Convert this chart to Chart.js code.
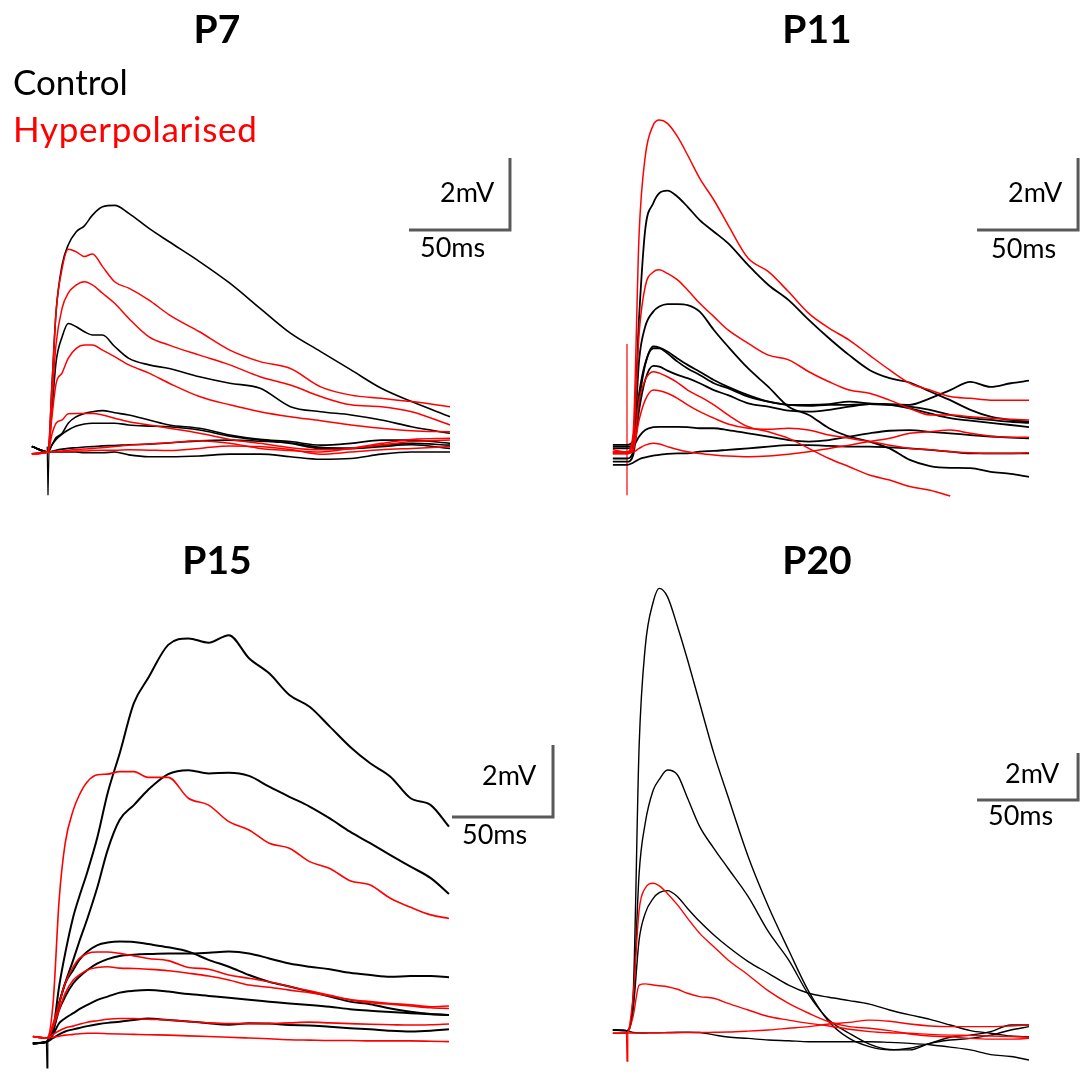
<!DOCTYPE html>
<html>
<head>
<meta charset="utf-8">
<script src="https://cdn.jsdelivr.net/npm/chart.js@4"></script>
<style>
html,body{margin:0;padding:0;background:#fff;}
#wrap{position:relative;width:1083px;height:1077px;overflow:hidden;font-family:Lato,"Open Sans","DejaVu Sans",sans-serif;}
canvas{position:absolute;left:0;top:0;}
.t{position:absolute;white-space:nowrap;line-height:1;color:#000;}
.title{font-weight:700;font-size:39px;width:200px;text-align:center;}
.leg{font-size:35px;}
.sb{font-size:27px;}
</style>
</head>
<body>
<div id="wrap">
<canvas id="c7" width="1083" height="1077"></canvas>
<canvas id="c11" width="1083" height="1077"></canvas>
<canvas id="c15" width="1083" height="1077"></canvas>
<canvas id="c20" width="1083" height="1077"></canvas>

<div class="t title" style="left:117px;top:9px">P7</div>
<div class="t title" style="left:717px;top:9px">P11</div>
<div class="t title" style="left:117px;top:540px">P15</div>
<div class="t title" style="left:717px;top:540px">P20</div>
<div class="t leg" style="left:13px;top:64px">Control</div>
<div class="t leg" style="left:13px;top:111px;color:#ff0000;letter-spacing:0.7px">Hyperpolarised</div>

<div class="t sb" style="left:440px;top:178px">2mV</div>
<div class="t sb" style="left:420px;top:233px">50ms</div>
<div class="t sb" style="left:1008px;top:178px">2mV</div>
<div class="t sb" style="left:991px;top:234px">50ms</div>
<div class="t sb" style="left:482px;top:761px">2mV</div>
<div class="t sb" style="left:462px;top:820px">50ms</div>
<div class="t sb" style="left:1005px;top:759px">2mV</div>
<div class="t sb" style="left:988px;top:801px">50ms</div>
</div>

<script>
// ---------------- DATA (time in ms from stimulus, voltage in mV) ----------------
const p7_time = [-8, 0, 2, 4, 7, 10, 14, 18, 22, 27, 33, 40, 50, 60, 75, 90, 105, 120, 135, 150, 165, 180, 199];
const p7_ctrl1 = [0.15, 0, 1.9, 3.9, 5.2, 5.75, 6.12, 6.28, 6.58, 6.81, 6.85, 6.63, 6.21, 5.84, 5.29, 4.69, 3.99, 3.30, 2.79, 2.28, 1.77, 1.40, 0.98];
const p7_ctrl2 = [0.15, 0, 1.2, 2.5, 3.2, 3.57, 3.48, 3.34, 3.25, 3.25, 2.93, 2.6, 2.42, 2.32, 2.09, 1.91, 1.77, 1.26, 1.12, 1.03, 0.89, 0.70, 0.52];
const p7_ctrl3 = [0.15, 0, 0.2, 0.4, 0.52, 0.8, 0.98, 1.07, 1.12, 1.15, 1.09, 1.03, 0.89, 0.75, 0.66, 0.47, 0.35, 0.29, 0.19, 0.24, 0.33, 0.33, 0.24];
const p7_ctrl4 = [0.15, 0, 0.2, 0.35, 0.5, 0.61, 0.72, 0.78, 0.8, 0.8, 0.8, 0.75, 0.72, 0.7, 0.61, 0.44, 0.33, 0.24, 0.1, 0.1, 0.19, 0.24, 0.19];
const p7_ctrl5 = [0.15, 0, 0.0, 0.0, 0.0, 0.0, 0.0, -0.02, -0.02, -0.02, 0.0, -0.08, -0.13, -0.13, -0.11, -0.06, -0.06, -0.13, -0.2, -0.18, -0.06, 0.0, 0.0];
const p7_ctrl6 = [0.15, 0, 0.02, 0.05, 0.08, 0.1, 0.12, 0.14, 0.15, 0.17, 0.18, 0.2, 0.22, 0.25, 0.31, 0.33, 0.3, 0.25, 0.13, 0.1, 0.15, 0.2, 0.1];
const p7_hyp1 = [-0.05, 0, 1.9, 3.9, 5.1, 5.63, 5.56, 5.43, 5.5, 5.15, 4.73, 4.55, 4.22, 3.81, 3.34, 2.83, 2.51, 2.32, 1.81, 1.58, 1.49, 1.40, 1.26];
const p7_hyp2 = [-0.05, 0, 1.5, 3.0, 4.0, 4.41, 4.64, 4.73, 4.64, 4.41, 4.13, 3.71, 3.2, 2.97, 2.69, 2.42, 2.09, 1.86, 1.54, 1.31, 1.26, 1.12, 0.75];
const p7_hyp3 = [-0.05, 0, 1.0, 1.9, 2.2, 2.6, 2.88, 2.97, 2.97, 2.83, 2.65, 2.42, 2.19, 1.91, 1.54, 1.31, 1.12, 0.98, 0.87, 0.75, 0.66, 0.59, 0.56];
const p7_hyp4 = [-0.05, 0, 0.5, 0.8, 0.89, 1.06, 1.07, 1.07, 1.07, 1.03, 0.94, 0.84, 0.75, 0.66, 0.52, 0.35, 0.24, 0.12, 0.06, 0.1, 0.19, 0.29, 0.33];
const p7_hyp5 = [-0.05, 0, 0.01, 0.02, 0.03, 0.05, 0.07, 0.08, 0.1, 0.12, 0.15, 0.19, 0.22, 0.26, 0.31, 0.24, 0.1, 0.04, 0.0, 0.1, 0.24, 0.35, 0.38];
const p7_hyp6 = [-0.05, 0, 0.0, 0.01, 0.01, 0.02, 0.03, 0.03, 0.04, 0.05, 0.05, 0.06, 0.05, 0.04, 0.1, 0.17, 0.15, 0.07, -0.06, 0.0, 0.06, 0.1, 0.15];
const p7_artifact = [[-0.4, 0.15], [0, -1.2], [0.5, 0.1]];

const p11_time = [-7, 0, 3, 6, 9, 13, 16, 20, 25, 30, 36, 43, 50, 60, 70, 80, 90, 100, 110, 120, 130, 140, 150, 160, 170, 180, 190, 199];
const p11_ctrl1 = [0.2, 0.2, 0.3, 3.76, 6.17, 6.91, 7.19, 7.26, 7.09, 6.81, 6.44, 6.12, 5.8, 5.19, 4.64, 4.22, 3.67, 3.16, 2.69, 2.28, 2.05, 1.93, 1.68, 1.44, 1.17, 0.98, 0.89, 0.84];
const p11_ctrl2 = [-0.18, -0.18, 0.0, 2.56, 3.48, 3.9, 4.04, 4.11, 4.11, 4.08, 3.9, 3.39, 2.93, 2.32, 1.81, 1.26, 1.03, 0.66, 0.43, 0.29, 0.1, -0.22, -0.39, -0.44, -0.45, -0.55, -0.61, -0.69];
const p11_ctrl3 = [0.15, 0.15, 0.2, 1.63, 2.46, 2.88, 2.88, 2.74, 2.51, 2.32, 2.14, 1.91, 1.77, 1.54, 1.40, 1.31, 1.31, 1.33, 1.40, 1.35, 1.33, 1.31, 1.49, 1.72, 1.95, 1.81, 1.91, 1.98];
const p11_ctrl4 = [-0.04, -0.04, 0.1, 1.44, 2.42, 2.93, 2.9, 2.79, 2.6, 2.42, 2.23, 2.0, 1.81, 1.58, 1.40, 1.31, 1.28, 1.31, 1.31, 1.33, 1.31, 1.26, 1.17, 1.03, 0.94, 0.89, 0.84, 0.81];
const p11_ctrl5 = [-0.27, -0.27, -0.1, 1.17, 2.0, 2.39, 2.37, 2.26, 2.14, 2.05, 1.91, 1.72, 1.58, 1.35, 1.26, 1.15, 1.12, 1.17, 1.26, 1.33, 1.31, 1.21, 1.07, 0.94, 0.87, 0.81, 0.75, 0.69];
const p11_ctrl6 = [0.1, 0.1, 0.15, 0.43, 0.61, 0.69, 0.70, 0.70, 0.70, 0.69, 0.66, 0.66, 0.61, 0.52, 0.43, 0.33, 0.29, 0.33, 0.43, 0.52, 0.59, 0.61, 0.56, 0.52, 0.47, 0.43, 0.4, 0.38];
const p11_ctrl7 = [-0.36, -0.36, -0.3, -0.2, -0.15, -0.1, -0.08, -0.05, -0.04, -0.04, 0.01, 0.03, 0.06, 0.1, 0.15, 0.19, 0.19, 0.17, 0.15, 0.15, 0.13, 0.1, 0.06, 0.01, -0.04, -0.04, -0.04, -0.04];
const p11_hyp1 = [0.06, 0.0, 0.5, 6.07, 8.2, 9.08, 9.22, 9.13, 8.76, 8.25, 7.6, 7.0, 6.31, 5.38, 5.01, 4.45, 3.85, 3.44, 3.11, 2.69, 2.28, 1.91, 1.72, 1.54, 1.49, 1.44, 1.44, 1.44];
const p11_hyp2 = [0.0, 0.0, 0.3, 3.3, 4.59, 5.0, 5.06, 4.96, 4.78, 4.5, 4.13, 3.76, 3.39, 3.02, 2.69, 2.56, 2.23, 1.95, 1.72, 1.63, 1.44, 1.21, 1.03, 1.03, 0.98, 0.94, 0.91, 0.89];
const p11_hyp3 = [0.0, 0.0, 0.1, 1.44, 2.0, 2.23, 2.19, 2.09, 1.93, 1.72, 1.54, 1.31, 1.03, 0.70, 0.56, 0.38, 0.1, -0.18, -0.41, -0.64, -0.78, -0.96, -1.06, -1.22, null, null, null, null];
const p11_hyp4 = [-0.05, -0.05, 0.05, 0.89, 1.44, 1.72, 1.70, 1.63, 1.49, 1.31, 1.12, 0.94, 0.78, 0.66, 0.63, 0.66, 0.61, 0.47, 0.38, 0.29, 0.19, 0.1, 0.06, 0.01, -0.02, -0.04, -0.04, -0.02];
const p11_hyp5 = [0.01, 0.01, 0.0, 0.1, 0.19, 0.24, 0.22, 0.15, 0.07, 0.01, -0.04, -0.08, -0.11, -0.13, -0.11, -0.06, 0.01, 0.1, 0.19, 0.29, 0.38, 0.52, 0.56, 0.61, 0.52, 0.44, 0.41, 0.41];
const p11_artifact = [[0, 3.0], [0, -1.2]];

const p15_time = [-7, 0, 3, 6, 9, 13, 16, 20, 25, 30, 36, 43, 50, 60, 70, 80, 90, 100, 110, 120, 130, 140, 150, 160, 170, 180, 190, 199];
const p15_ctrl1 = [-0.15, -0.1, 0.22, 1.43, 2.35, 3.37, 3.93, 4.62, 5.59, 6.8, 7.91, 9.3, 9.99, 10.92, 11.1, 10.98, 11.19, 10.55, 10.13, 9.53, 9.2, 8.65, 8.09, 7.63, 7.26, 6.66, 6.47, 5.87];
const p15_ctrl2 = [-0.15, -0.1, 0.18, 0.96, 1.52, 2.17, 2.68, 3.32, 4.2, 5.22, 6.06, 6.47, 6.89, 7.33, 7.44, 7.35, 7.37, 7.28, 6.98, 6.7, 6.43, 6.1, 5.73, 5.41, 5.08, 4.76, 4.44, 4.0];
const p15_ctrl3 = [-0.15, -0.1, 0.27, 0.96, 1.52, 1.89, 2.17, 2.4, 2.58, 2.65, 2.68, 2.67, 2.61, 2.52, 2.4, 2.17, 1.98, 1.75, 1.56, 1.43, 1.29, 1.15, 1.01, 0.94, 0.82, 0.73, 0.67, 0.64];
const p15_ctrl4 = [-0.15, -0.1, 0.2, 0.78, 1.15, 1.52, 1.7, 1.89, 2.07, 2.19, 2.28, 2.31, 2.33, 2.35, 2.35, 2.37, 2.4, 2.35, 2.21, 2.07, 1.98, 1.91, 1.81, 1.75, 1.7, 1.72, 1.72, 1.69];
const p15_ctrl5 = [-0.15, -0.1, 0.1, 0.41, 0.55, 0.69, 0.8, 0.92, 1.06, 1.15, 1.26, 1.31, 1.33, 1.29, 1.22, 1.17, 1.12, 1.06, 1.01, 0.96, 0.92, 0.87, 0.8, 0.76, 0.72, 0.69, 0.66, 0.64];
const p15_ctrl6 = [-0.15, -0.1, 0.0, 0.1, 0.18, 0.24, 0.28, 0.33, 0.38, 0.42, 0.45, 0.5, 0.54, 0.5, 0.46, 0.41, 0.37, 0.41, 0.4, 0.36, 0.35, 0.31, 0.27, 0.24, 0.2, 0.18, 0.2, 0.24];
const p15_hyp1 = [0.04, 0.0, 0.96, 3.83, 5.41, 6.33, 6.75, 7.12, 7.31, 7.33, 7.4, 7.4, 7.24, 7.24, 6.66, 6.47, 6.01, 5.78, 5.41, 5.27, 4.9, 4.71, 4.37, 4.25, 3.88, 3.63, 3.42, 3.32];
const p15_hyp2 = [0.04, 0.0, 0.4, 0.96, 1.52, 1.98, 2.21, 2.35, 2.39, 2.39, 2.35, 2.28, 2.21, 2.15, 1.96, 1.91, 1.75, 1.66, 1.56, 1.43, 1.31, 1.19, 1.07, 1.01, 0.96, 0.92, 0.87, 0.89];
const p15_hyp3 = [0.04, 0.0, 0.3, 0.78, 1.24, 1.61, 1.75, 1.89, 1.96, 1.98, 1.94, 1.93, 1.91, 1.87, 1.8, 1.72, 1.61, 1.47, 1.41, 1.33, 1.26, 1.17, 1.06, 0.98, 0.94, 0.89, 0.84, 0.82];
const p15_hyp4 = [0.04, 0.0, 0.1, 0.2, 0.28, 0.33, 0.38, 0.44, 0.48, 0.52, 0.54, 0.54, 0.52, 0.5, 0.46, 0.42, 0.4, 0.4, 0.4, 0.42, 0.44, 0.42, 0.4, 0.38, 0.37, 0.36, 0.37, 0.39];
const p15_hyp5 = [0.04, 0.0, 0.02, 0.05, 0.08, 0.1, 0.12, 0.13, 0.13, 0.12, 0.11, 0.1, 0.09, 0.08, 0.06, 0.04, 0.02, 0.0, -0.02, -0.05, -0.06, -0.07, -0.07, -0.08, -0.08, -0.08, -0.09, -0.1];
const p15_artifact = [[-0.3, -0.1], [0, -0.83], [0.4, 0.0]];

const p20_time = [-7, 0, 3, 6, 9, 13, 16, 20, 25, 30, 36, 43, 50, 60, 70, 80, 90, 100, 110, 120, 130, 140, 150, 160, 170, 180, 190, 199];
const p20_ctrl1 = [0.13, 0.1, 1.55, 12.2, 16.4, 18.35, 18.92, 18.57, 17.3, 15.87, 14.03, 11.9, 10.06, 7.5, 5.38, 3.53, 1.76, 0.48, -0.23, -0.58, -0.72, -0.65, -0.44, -0.18, -0.09, 0.06, 0.34, 0.34];
const p20_ctrl2 = [0.13, 0.1, 1.2, 6.79, 8.92, 10.34, 10.79, 11.19, 10.98, 9.99, 8.78, 7.86, 7.01, 5.8, 4.31, 3.11, 1.62, 0.55, -0.01, -0.47, -0.7, -0.72, -0.44, -0.3, -0.23, -0.09, 0.13, 0.27];
const p20_ctrl3 = [0.13, 0.1, 0.98, 3.96, 5.09, 5.73, 5.97, 6.06, 5.8, 5.3, 4.74, 4.17, 3.67, 3.04, 2.54, 2.04, 1.69, 1.52, 1.38, 1.23, 0.98, 0.77, 0.58, 0.34, 0.1, -0.01, -0.13, -0.16];
const p20_ctrl4 = [0.13, 0.1, 0.02, 0.0, 0.0, 0.01, 0.01, 0.02, 0.03, 0.03, 0.02, -0.08, -0.17, -0.23, -0.3, -0.33, -0.37, -0.37, -0.37, -0.37, -0.4, -0.44, -0.5, -0.6, -0.72, -0.92, -1.0, -1.15];
const p20_hyp1 = [-0.01, 0.0, 1.55, 5.23, 6.16, 6.37, 6.26, 5.94, 5.45, 4.88, 4.24, 3.67, 3.11, 2.47, 1.79, 1.26, 0.84, 0.48, 0.27, 0.2, 0.1, -0.04, -0.13, -0.16, -0.23, -0.26, -0.26, -0.23];
const p20_hyp2 = [-0.01, 0.0, 0.7, 2.04, 2.09, 2.04, 2.01, 1.97, 1.86, 1.69, 1.55, 1.48, 1.26, 0.98, 0.7, 0.55, 0.41, 0.3, 0.16, 0.06, 0.01, -0.01, -0.06, -0.09, -0.1, -0.13, -0.15, -0.18];
const p20_hyp3 = [-0.01, 0.0, 0.0, 0.0, 0.01, 0.01, 0.01, 0.01, 0.01, 0.02, 0.02, 0.03, 0.04, 0.08, 0.13, 0.2, 0.27, 0.38, 0.45, 0.55, 0.5, 0.38, 0.3, 0.27, 0.27, 0.27, 0.3, 0.34];
const p20_artifact = [[-0.3, 0.1], [0, -1.2], [0.4, 0.0]];

// scale bars: corner origin [ms, mV]; lengths 50 ms and 2 mV
const BAR_MS = 50, BAR_MV = 2;
const p7_bar = [178.7, 6.17];
const p11_bar = [173.3, 6.17];
const p15_bar = [200.5, 6.14];
const p20_bar = [173.3, 9.91];

// ---------------- LAYOUT / STYLE ----------------
const W = 1083, H = 1077;
const BLACK = '#000000', RED = '#ff0000', BAR = '#595959';

function panel(id, lay, time, ctrl, hyp, artifact, artColor, bar) {
  const mk = (vals, color, w) => ({
    data: time.map((t, i) => ({x: t, y: vals[i]})),
    borderColor: color, borderWidth: w, pointRadius: 0, fill: false,
    cubicInterpolationMode: 'monotone', spanGaps: false
  });
  const ds = [];
  hyp.forEach(v => ds.push(mk(v, RED, lay.wr)));
  ctrl.forEach(v => ds.push(mk(v, BLACK, lay.wb)));
  ds.push({data: artifact.map(p => ({x: p[0], y: p[1]})), borderColor: artColor,
           borderWidth: 1.2, pointRadius: 0, tension: 0});
  ds.push({data: [{x: bar[0], y: bar[1]}, {x: bar[0] + BAR_MS, y: bar[1]}, {x: bar[0] + BAR_MS, y: bar[1] + BAR_MV}],
           borderColor: BAR, borderWidth: 3, pointRadius: 0, tension: 0,
           borderJoinStyle: 'miter', borderCapStyle: 'butt'});
  const xmin = -lay.x0 / lay.pxPerMs, xmax = xmin + W / lay.pxPerMs;
  const ymax = lay.y0 / lay.pxPerMv, ymin = ymax - H / lay.pxPerMv;
  new Chart(document.getElementById(id), {
    type: 'line',
    data: {datasets: ds},
    options: {
      responsive: false, animation: false, events: [],
      layout: {padding: 0},
      plugins: {legend: {display: false}, tooltip: {enabled: false}, title: {display: false}},
      scales: {
        x: {type: 'linear', display: false, min: xmin, max: xmax},
        y: {type: 'linear', display: false, min: ymin, max: ymax}
      }
    }
  });
}

panel('c7',  {x0: 48,  y0: 452,  pxPerMs: 2.02, pxPerMv: 36,   wb: 1.6, wr: 1.5}, p7_time,
  [p7_ctrl1, p7_ctrl2, p7_ctrl3, p7_ctrl4, p7_ctrl5, p7_ctrl6],
  [p7_hyp1, p7_hyp2, p7_hyp3, p7_hyp4, p7_hyp5, p7_hyp6], p7_artifact, BLACK, p7_bar);
panel('c11', {x0: 627, y0: 452,  pxPerMs: 2.02, pxPerMv: 36,   wb: 1.8, wr: 1.5}, p11_time,
  [p11_ctrl1, p11_ctrl2, p11_ctrl3, p11_ctrl4, p11_ctrl5, p11_ctrl6, p11_ctrl7],
  [p11_hyp1, p11_hyp2, p11_hyp3, p11_hyp4, p11_hyp5], p11_artifact, RED, p11_bar);
panel('c15', {x0: 47,  y0: 1038, pxPerMs: 2.02, pxPerMv: 36,   wb: 2.0, wr: 1.6}, p15_time,
  [p15_ctrl1, p15_ctrl2, p15_ctrl3, p15_ctrl4, p15_ctrl5, p15_ctrl6],
  [p15_hyp1, p15_hyp2, p15_hyp3, p15_hyp4, p15_hyp5], p15_artifact, BLACK, p15_bar);
panel('c20', {x0: 627, y0: 1033, pxPerMs: 2.02, pxPerMv: 23.5, wb: 1.4, wr: 1.4}, p20_time,
  [p20_ctrl1, p20_ctrl2, p20_ctrl3, p20_ctrl4],
  [p20_hyp1, p20_hyp2, p20_hyp3], p20_artifact, RED, p20_bar);
</script>
</body>
</html>
